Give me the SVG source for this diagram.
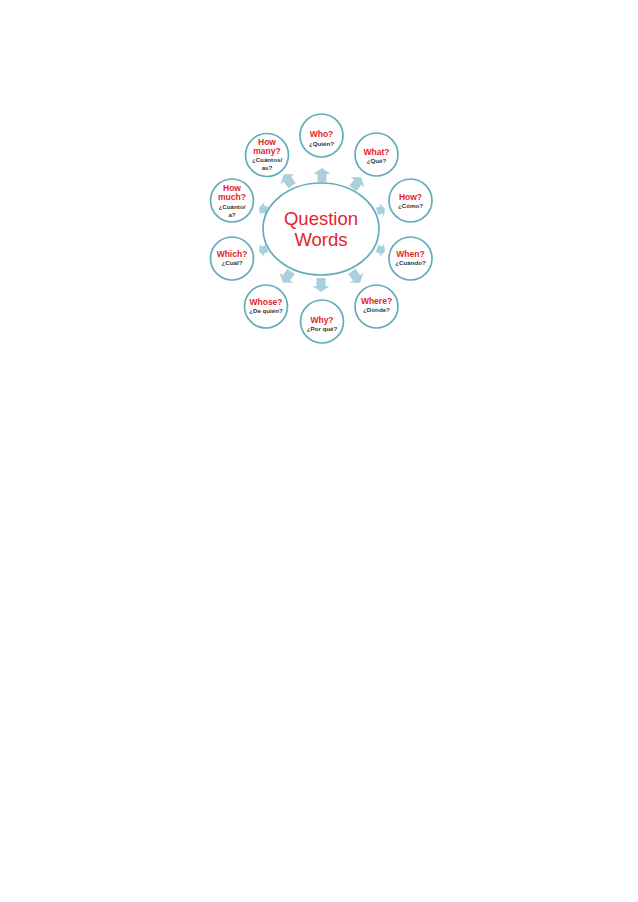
<svg xmlns="http://www.w3.org/2000/svg" width="638" height="902" viewBox="0 0 638 902">
<style>
.c{fill:#ffffff;stroke:#62adba;stroke-width:1.7}
.q{font-family:"Liberation Sans",Arial,sans-serif;font-weight:bold;font-size:8.5px;fill:#e3242b;text-anchor:middle}
.s{font-family:"Liberation Sans",Arial,sans-serif;font-weight:bold;font-size:6.2px;fill:#333333;text-anchor:middle}
.t{font-family:"Liberation Sans",Arial,sans-serif;font-size:18.5px;fill:#e3242b;text-anchor:middle}
.a{fill:#a9d0dd}
</style>
<defs>
<polygon id="arr" class="a" points="-4.5,7 4.5,7 4.5,-1 8.5,-1 0,-7 -8.5,-1 -4.5,-1"/>
</defs>
<rect width="638" height="902" fill="#ffffff"/>
<g id="connectors">
<use href="#arr" transform="translate(322,175) rotate(0)"/>
<use href="#arr" transform="translate(357,183) rotate(36)"/>
<use href="#arr" transform="translate(381,210) rotate(72) scale(0.85,0.6)"/>
<use href="#arr" transform="translate(381,250) rotate(108) scale(0.85,0.6)"/>
<use href="#arr" transform="translate(356,277) rotate(144)"/>
<use href="#arr" transform="translate(321,285) rotate(180)"/>
<use href="#arr" transform="translate(287,277) rotate(216)"/>
<use href="#arr" transform="translate(263,250) rotate(252) scale(0.85,0.6)"/>
<use href="#arr" transform="translate(263,209) rotate(288) scale(0.85,0.6)"/>
<use href="#arr" transform="translate(288,180) rotate(324)"/>
</g>
<g id="center">
<ellipse class="c" cx="321" cy="229" rx="58" ry="46"/>
<text class="t" x="321" y="225">Question</text>
<text class="t" x="321" y="246">Words</text>
</g>
<g id="who">
<circle class="c" cx="321.5" cy="135.5" r="21.5"/>
<text class="q" x="321.5" y="137">Who?</text>
<text class="s" x="321.5" y="146">¿Quién?</text>
</g>
<g id="what">
<circle class="c" cx="376.5" cy="154.5" r="21.5"/>
<text class="q" x="376.5" y="155">What?</text>
<text class="s" x="376.5" y="162.5">¿Qué?</text>
</g>
<g id="how">
<circle class="c" cx="410.5" cy="200.5" r="21.5"/>
<text class="q" x="410.5" y="200">How?</text>
<text class="s" x="410.5" y="208">¿Cómo?</text>
</g>
<g id="when">
<circle class="c" cx="410.5" cy="258.5" r="21.5"/>
<text class="q" x="410.5" y="257">When?</text>
<text class="s" x="410.5" y="265">¿Cuándo?</text>
</g>
<g id="where">
<circle class="c" cx="376.5" cy="306.5" r="21.5"/>
<text class="q" x="376.5" y="303.5">Where?</text>
<text class="s" x="376.5" y="312">¿Dónde?</text>
</g>
<g id="why">
<circle class="c" cx="322" cy="321.5" r="21.5"/>
<text class="q" x="322" y="323">Why?</text>
<text class="s" x="322" y="331">¿Por qué?</text>
</g>
<g id="whose">
<circle class="c" cx="266" cy="306.5" r="21.5"/>
<text class="q" x="266" y="305">Whose?</text>
<text class="s" x="266" y="312.5">¿De quién?</text>
</g>
<g id="which">
<circle class="c" cx="232" cy="258.5" r="21.5"/>
<text class="q" x="232" y="257">Which?</text>
<text class="s" x="232" y="265">¿Cuál?</text>
</g>
<g id="how-much">
<circle class="c" cx="232" cy="200.5" r="21.5"/>
<text class="q" x="232" y="191">How</text>
<text class="q" x="232" y="200">much?</text>
<text class="s" x="232" y="208.5">¿Cuánto/</text>
<text class="s" x="232" y="217">a?</text>
</g>
<g id="how-many">
<circle class="c" cx="267" cy="155" r="21.5"/>
<text class="q" x="267" y="145">How</text>
<text class="q" x="267" y="153.5">many?</text>
<text class="s" x="267" y="162">¿Cuántos/</text>
<text class="s" x="267" y="170">as?</text>
</g>
</svg>
